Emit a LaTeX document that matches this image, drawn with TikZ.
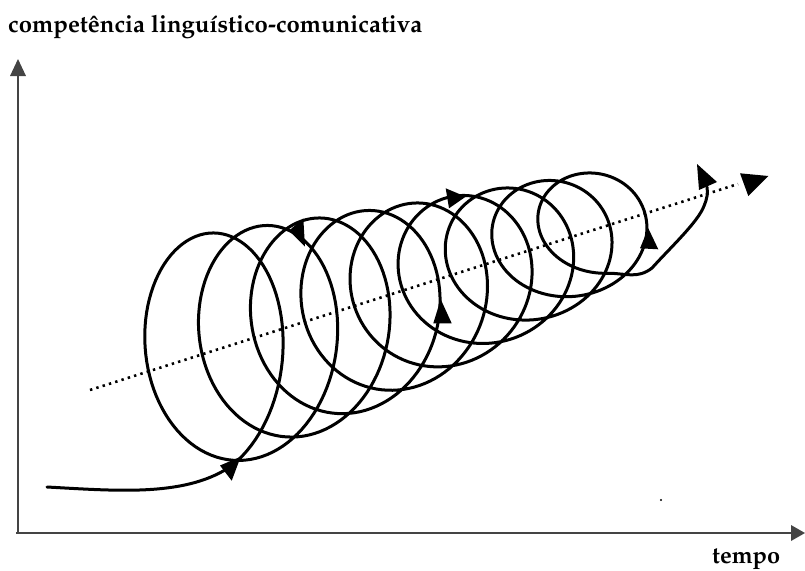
\documentclass[tikz,border=0pt]{standalone}
\usepackage[T1]{fontenc}
\renewcommand{\rmdefault}{ppl}
\usepackage{graphicx}
\definecolor{axisgray}{HTML}{444444}
\begin{document}
\begin{tikzpicture}[x=1pt,y=-1pt,
  coil/.style={line width=3pt, line join=round, line cap=round},
  axis/.style={line width=1.3pt, draw=axisgray},
  axhead/.style={fill=axisgray},
  tri/.style={fill=black},
  dotline/.style={line width=2.6pt, dash pattern=on 2.4pt off 4.2pt},
  lab/.style={inner sep=0pt, font=\bfseries}]
\useasboundingbox (0,0) rectangle (805,570);
% title and axis label
\node[lab, anchor=base west] (title) at (8,32) {\resizebox{414pt}{!}{\fontsize{20}{24}\selectfont\bfseries compet\^encia lingu\'{\i}stico-comunicativa}};
\node[lab, anchor=base west] (tempo) at (712,563) {\resizebox{68pt}{!}{\fontsize{20}{24}\selectfont\bfseries tempo}};
% axes
\coordinate (O) at (16,533);
\coordinate (ytip) at (18,59);
\coordinate (xtip) at (805,533);
\draw[axis] (18,533) -- (18,76);
\draw[axis] (O) -- (793,533);
\fill[axhead] (ytip) -- (10,76) -- (26,76) -- cycle;
\fill[axhead] (xtip) -- (791,525) -- (791,541) -- cycle;
% dotted line
\coordinate (d0) at (90,390);
\coordinate (d1) at (738,184);
\draw[dotline] (d0) -- (d1);
\fill[tri] (740,173.3) -- (768.3,176) -- (748.3,196) -- cycle;
% coil
\draw[coil] (47,487) .. controls (120,491) and (188,497) .. (233,464.8)
  -- plot[domain=0.085:9, samples=900, variable=\s]
     ({214 + 55.1*(\s-0.5) - (\s-0.5)*(\s-0.5)
        + (82.5 - 0.036*(\s-0.5)*(\s-0.5)*(\s-0.5))*cos(360*\s-90)},
      {360.25-15.45*\s - (123.55-7.95*\s)*sin(360*\s-90)})
  .. controls (626,273.5) and (638,279) .. (652,268)
  .. controls (670,248) and (698,222) .. (704,206)
  .. controls (707,199) and (708,193) .. (707,187);
% arrowheads on the coil
\fill[tri] (220,465.5) -- (240.7,456.7) -- (231.7,480.7) -- cycle;
\fill[tri] (289,230.7) -- (303.3,218.3) -- (305,246.7) -- cycle;
\fill[tri] (445.7,188.3) -- (449,208.3) -- (465.7,196.7) -- cycle;
\fill[tri] (440.7,299.3) -- (433.3,323.3) -- (451.7,323.3) -- cycle;
\fill[tri] (648.3,228.3) -- (640,248.3) -- (658.3,249.3) -- cycle;
\fill[tri] (697,164) -- (699,190) -- (717,182) -- cycle;
% stray dot
\fill (661,500) circle (1.2pt);
\end{tikzpicture}
\end{document}
